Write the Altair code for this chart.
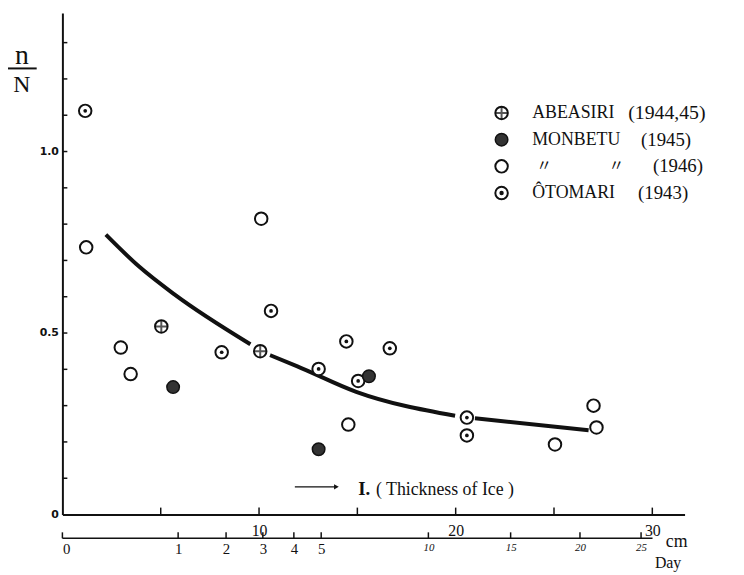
import altair as alt
import pandas as pd

# ---------------- data ----------------
# x: thickness of ice (cm), y: n/N
oto_x = [1.16, 8.10, 10.61, 13.03, 14.44, 15.04, 16.65, 20.57, 20.57]
oto_y = [1.112, 0.447, 0.561, 0.401, 0.477, 0.368, 0.458, 0.267, 0.218]
abe_x = [5.03, 10.06]
abe_y = [0.518, 0.450]
mon45_x = [5.63, 13.03, 15.59]
mon45_y = [0.351, 0.180, 0.381]
mon46_x = [1.21, 2.97, 3.47, 10.11, 14.54, 25.05, 27.01, 27.16]
mon46_y = [0.736, 0.460, 0.387, 0.815, 0.248, 0.193, 0.300, 0.240]

curve_x = [2.21, 3.9, 5.73, 9.56, 10.56, 11.92, 14.94, 19.97, 20.98, 26.76]
curve_y = [0.771, 0.683, 0.605, 0.469, 0.439, 0.409, 0.338, 0.272, 0.265, 0.232]
curve_seg = [1, 1, 1, 1, 2, 2, 2, 2, 3, 3]

y_ticks = [0.0, 0.1, 0.2, 0.3, 0.4, 0.5, 0.6, 0.7, 0.8, 0.9, 1.0, 1.1, 1.2, 1.3]
x_ticks = [5, 10, 15, 20, 25, 30]
x_labels = [10, 20, 30]
day_ticks = [0, 1, 2, 3, 4, 5, 10, 15, 20, 25]
day_axis_end = 26

legend_names = ["ABEASIRI", "MONBETU", "", "ÔTOMARI"]
legend_years = ["(1944,45)", "(1945)", "(1946)", "(1943)"]

# ---------------- layout ----------------
W, H = 629, 507
X_DOM = [0, 31.64]
Y_DOM = [0, 1.3815]
DAY_DOM = [0, 28.9]
SERIF = "Liberation Serif"

xs = alt.Scale(domain=X_DOM, nice=False, zero=False)
ys = alt.Scale(domain=Y_DOM, nice=False, zero=False)
ds = alt.Scale(type="sqrt", domain=DAY_DOM, nice=False, zero=False)

y_axis = alt.Axis(
    values=y_ticks, ticks=False, grid=False, title=None,
    domainColor="#111", domainWidth=2, labelFont="DejaVu Sans",
    labelFontWeight="bold", labelFontSize=11, labelColor="#111",
    labelPadding=4,
    labelExpr="datum.value < 0.01 ? '0' : (abs(datum.value-0.5)<0.01 ? '0.5' : (abs(datum.value-1.0)<0.01 ? '1.0' : ''))")

def pts(xv, yv):
    return pd.DataFrame({"x": xv, "y": yv})

df_oto = pts(oto_x, oto_y)
df_abe = pts(abe_x, abe_y)
df_m45 = pts(mon45_x, mon45_y)
df_m46 = pts(mon46_x, mon46_y)
df_curve = pd.DataFrame({"x": curve_x, "y": curve_y, "seg": curve_seg})

X = lambda: alt.X("x:Q", scale=xs, axis=None)
Y = lambda: alt.Y("y:Q", scale=ys, axis=y_axis)

# curve, carries the main axes
curve = alt.Chart(df_curve).mark_line(
    color="#111", strokeWidth=4, interpolate="monotone", strokeCap="butt"
).encode(
    x=alt.X("x:Q", scale=xs, axis=alt.Axis(
        values=x_labels, ticks=False, grid=False, title=None,
        domainColor="#111", domainWidth=2, labelFont=SERIF,
        labelFontSize=16, labelColor="#111", labelPadding=8)),
    y=Y(),
    detail="seg:N",
)

# inward ticks
yt = alt.Chart(pd.DataFrame({"y": y_ticks[1:]})).mark_rule(color="#111", strokeWidth=1.5).encode(
    y=Y(), x=alt.value(0), x2=alt.value(5))
xt = alt.Chart(pd.DataFrame({"x": x_ticks})).mark_rule(color="#111", strokeWidth=1.5).encode(
    x=X(), y=alt.value(H), y2=alt.value(H - 7))

SZ = 160
ring = dict(shape="circle", filled=False, stroke="#111", strokeWidth=2, fill="white", fillOpacity=1, size=SZ)

m46 = alt.Chart(df_m46).mark_point(**ring).encode(x=X(), y=Y())
oto_ring = alt.Chart(df_oto).mark_point(**ring).encode(x=X(), y=Y())
oto_dot = alt.Chart(df_oto).mark_point(shape="circle", filled=True, color="#111", size=14, opacity=1).encode(x=X(), y=Y())
abe_ring = alt.Chart(df_abe).mark_point(**ring).encode(x=X(), y=Y())
abe_cross = alt.Chart(df_abe).mark_point(shape="M-1,0L1,0M0,-1L0,1", filled=False, stroke="#111", strokeWidth=2, size=SZ).encode(x=X(), y=Y())
m45 = alt.Chart(df_m45).mark_point(shape="circle", filled=True, fill="#333", stroke="#111", strokeWidth=1.5, size=SZ, opacity=1).encode(x=X(), y=Y())

# second (Day) axis, sqrt-like scale
day_df = pd.DataFrame({"d": day_ticks})
day_ticks_l = alt.Chart(day_df).mark_rule(color="#111", strokeWidth=1.5).encode(
    x=alt.X("d:Q", scale=ds, axis=alt.Axis(
        orient="bottom", offset=24, values=day_ticks, domain=False, ticks=False,
        grid=False, title=None, labelFont=SERIF, labelColor="#111", labelPadding=3,
        labelFontSize={"condition": {"test": "datum.value >= 10", "value": 11}, "value": 15},
        labelFontStyle={"condition": {"test": "datum.value >= 10", "value": "italic"}, "value": "normal"})),
    y=alt.value(H + 24), y2=alt.value(H + 18))
day_line = alt.Chart(pd.DataFrame({"s": [0], "e": [day_axis_end]})).mark_rule(color="#111", strokeWidth=1.5).encode(
    x=alt.X("s:Q", scale=ds, axis=None), x2="e:Q", y=alt.value(H + 24))

# unit labels
def txt(s, x, y, size=17, align="left", font=SERIF, **kw):
    return alt.Chart(pd.DataFrame({"t": [s]})).mark_text(
        align=align, baseline="middle", font=font, fontSize=size, color="#111", **kw
    ).encode(text="t:N", x=alt.value(x), y=alt.value(y))

cm = txt("cm", 610, 535, 18)
day = txt("Day", 599, 556, 16)

# y title n / N
n_t = txt("n", -41, 44, 28, align="center")
n_line = alt.Chart(pd.DataFrame({"a": [0]})).mark_rule(color="#111", strokeWidth=2).encode(
    x=alt.value(-56), x2=alt.value(-26), y=alt.value(56))
N_t = txt("N", -41, 73, 24, align="center")

# annotation arrow
arr = alt.Chart(pd.DataFrame({"a": [0]})).mark_rule(color="#111", strokeWidth=1.2).encode(
    x=alt.value(235), x2=alt.value(276), y=alt.value(479))
arr_head = alt.Chart(pd.DataFrame({"a": [0]})).mark_point(shape="triangle-right", filled=True, color="#111", size=30, opacity=1).encode(
    x=alt.value(277), y=alt.value(479))
ann1 = txt("I.", 299, 481, 19, fontWeight="bold")
ann2 = txt("( Thickness of Ice )", 317, 482, 18)

# legend
LX, TX = 444, 475
rows = [101, 128, 155, 182]
one = pd.DataFrame({"a": [0]})
lg = []
lg.append(alt.Chart(one).mark_point(**ring).encode(x=alt.value(LX), y=alt.value(rows[0])))
lg.append(alt.Chart(one).mark_point(shape="M-1,0L1,0M0,-1L0,1", filled=False, stroke="#111", strokeWidth=2, size=SZ).encode(x=alt.value(LX), y=alt.value(rows[0])))
lg.append(alt.Chart(one).mark_point(shape="circle", filled=True, fill="#333", stroke="#111", strokeWidth=1.5, size=SZ, opacity=1).encode(x=alt.value(LX), y=alt.value(rows[1])))
lg.append(alt.Chart(one).mark_point(**ring).encode(x=alt.value(LX), y=alt.value(rows[2])))
lg.append(alt.Chart(one).mark_point(**ring).encode(x=alt.value(LX), y=alt.value(rows[3])))
lg.append(alt.Chart(one).mark_point(shape="circle", filled=True, color="#111", size=20, opacity=1).encode(x=alt.value(LX), y=alt.value(rows[3])))
lg.append(txt(legend_names[0], TX, rows[0], 18))
lg.append(txt(legend_years[0], 572, rows[0], 20))
lg.append(txt(legend_names[1], TX, rows[1], 18))
lg.append(txt(legend_years[1], 585, rows[1], 19))
lg.append(txt("〃", 487, rows[2], 16, align="center", font="Noto Sans CJK JP"))
lg.append(txt("〃", 560, rows[2], 16, align="center", font="Noto Sans CJK JP"))
lg.append(txt(legend_years[2], 597, rows[2], 19))
lg.append(txt(legend_names[3], TX, rows[3], 18))
lg.append(txt(legend_years[3], 582, rows[3], 19))

chart = alt.layer(
    curve, yt, xt, m46, oto_ring, oto_dot, abe_ring, abe_cross, m45,
    day_line, day_ticks_l, cm, day, n_t, n_line, N_t, arr, arr_head, ann1, ann2, *lg
).resolve_scale(x="independent").properties(
    width=W, height=H,
    padding={"left": 55, "top": 2, "right": 52, "bottom": 55},
    autosize="none", background="white",
).configure_view(stroke=None)

chart.save("out.html", embed_options={"renderer": "svg", "actions": False})
